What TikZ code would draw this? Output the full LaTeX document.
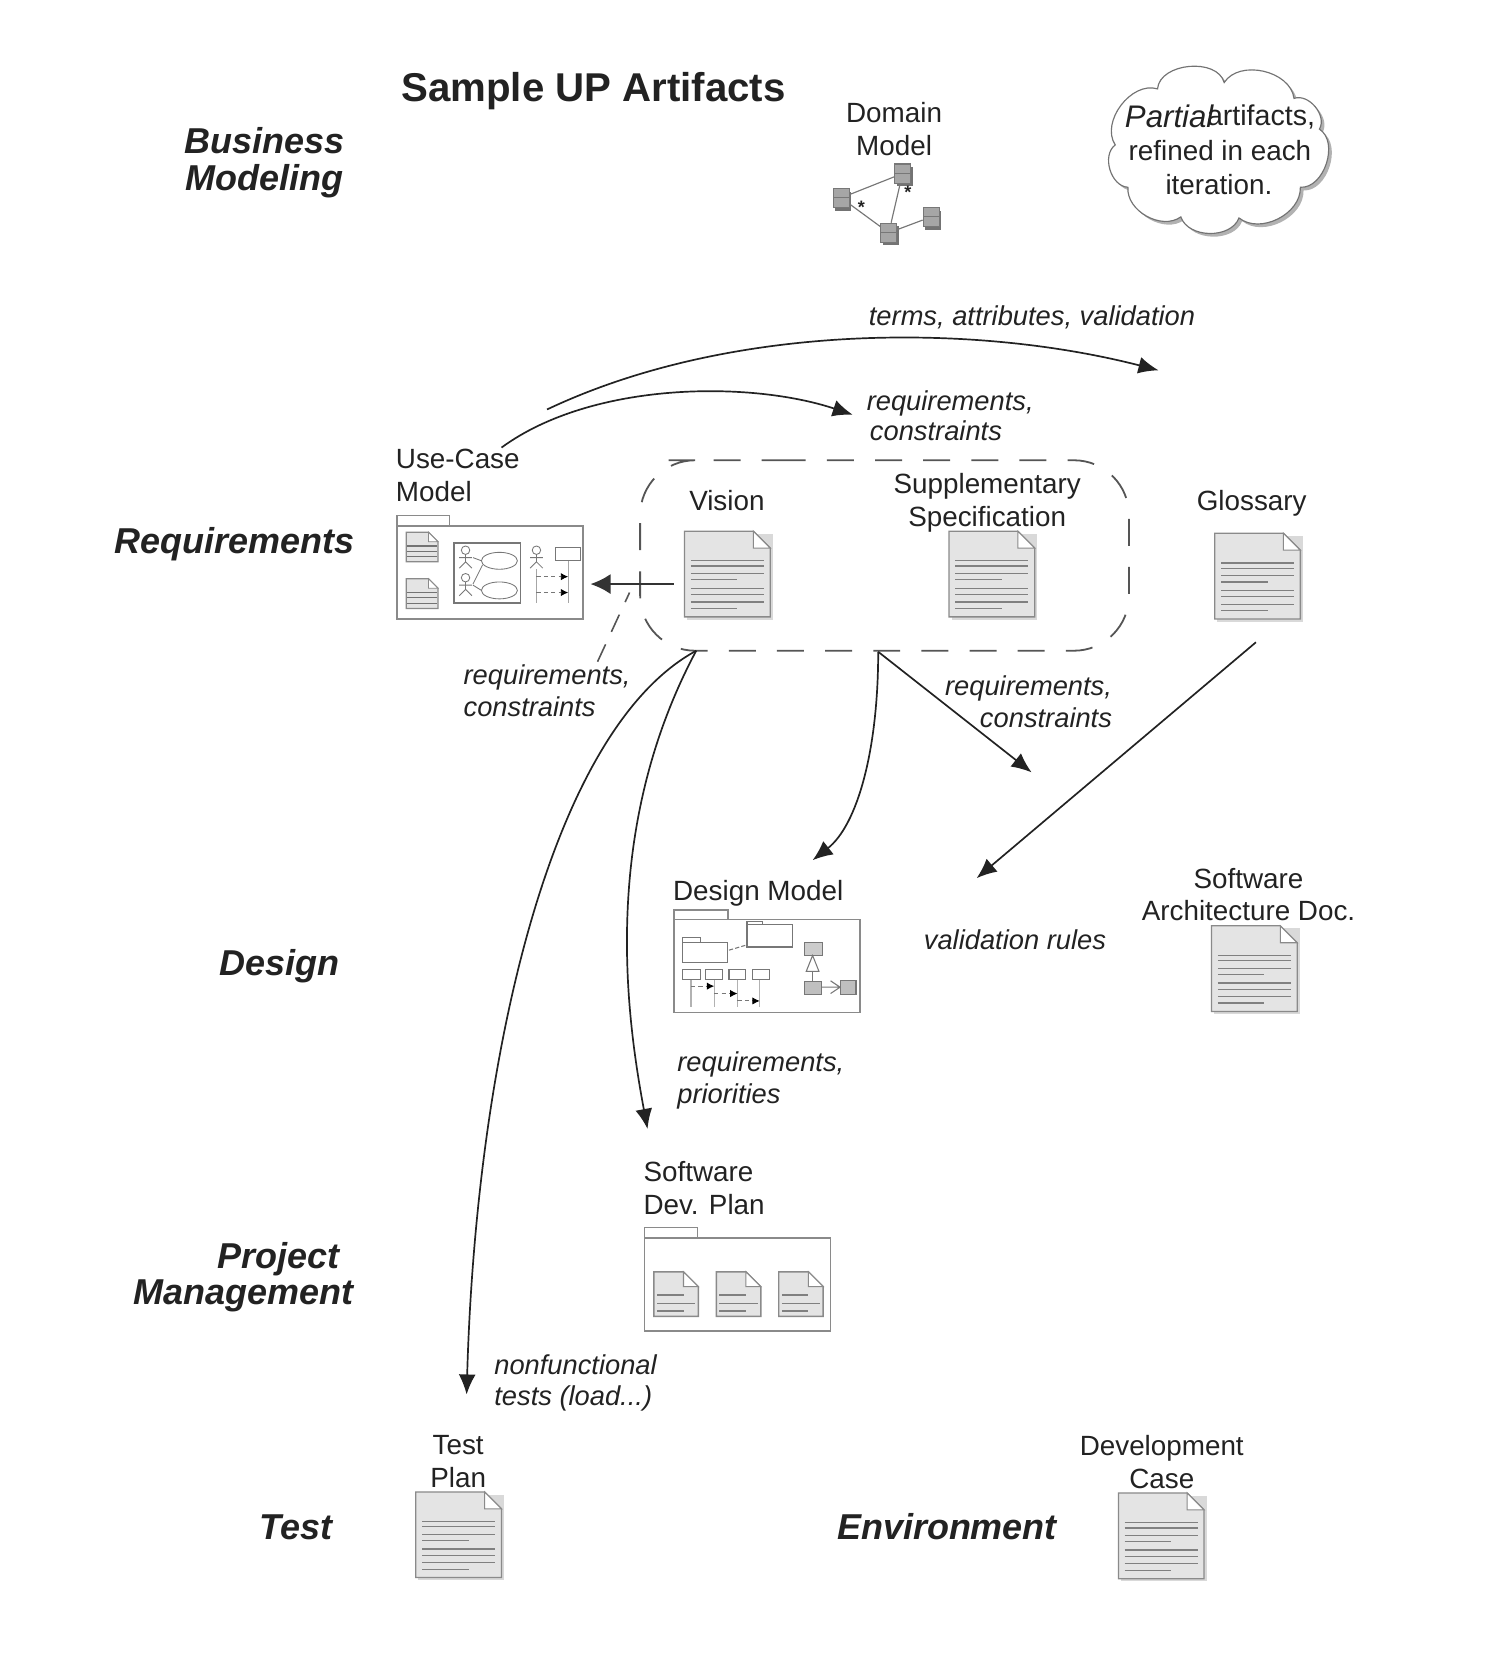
\documentclass[tikz,border=0pt]{standalone}
\usepackage{fontspec}
\setmainfont{Liberation Sans}
\usetikzlibrary{arrows.meta}
\definecolor{ink}{HTML}{222222}
\definecolor{docfill}{HTML}{E4E4E4}
\definecolor{docline}{HTML}{8A8A8A}
\definecolor{icon}{HTML}{777777}
\definecolor{dashc}{HTML}{555555}
\tikzset{
  x=1pt,y=-1pt,
  lab/.style={inner sep=0pt,text=ink,font=\fontsize{26.3}{31}\selectfont,align=left},
  labc/.style={lab,align=center},
  ilab/.style={inner sep=0pt,text=ink,font=\fontsize{25.8}{30}\selectfont\itshape,align=left},
  phase/.style={inner sep=0pt,text=ink,font=\fontsize{34}{35}\selectfont\bfseries\itshape,align=center},
  maintitle/.style={inner sep=0pt,text=ink,font=\fontsize{38}{40}\selectfont\bfseries},
  conn/.style={draw=ink,line width=1.6pt,-{Latex[length=19pt,width=16pt]}},
  tiny/.style={draw=icon,line width=1pt},
  tinyarrow/.style={draw=icon,line width=.9pt,dash pattern=on 4pt off 3pt,arrows={-{Latex[black,length=7pt,width=7pt]}}},
  folderline/.style={draw=docline,line width=1.4pt,fill=white},
  classbox/.style={draw=icon,line width=1pt,fill=black!35,minimum width=15pt,minimum height=18pt,inner sep=0pt,
    path picture={\draw[icon] (path picture bounding box.west) -- (path picture bounding box.east);}},
  classshadow/.style={fill=black!55,minimum width=15pt,minimum height=18pt,inner sep=0pt},
  assoc/.style={draw=icon,line width=1.1pt},
  starlab/.style={inner sep=0pt,text=ink,font=\fontsize{17}{17}\selectfont\bfseries},
  bigdoc/.pic={
    \path[fill=black!15] (2.5,2.5) -- (83.5,2.5) -- (83.5,83.5) -- (2.5,83.5) -- cycle;
    \path[draw=docline,line width=1.2pt,fill=docfill] (0,0) -- (65,0) -- (81,16) -- (81,81) -- (0,81) -- cycle;
    \path[draw=docline,line width=1pt,fill=white] (65,0) -- (65,16) -- (81,16) -- cycle;
    \foreach \yy/\xx in {28/75,33/75,40/75,46/50,54/75,60/75,67/75,73/50}
      \draw[draw=black!50,line width=1.2pt] (6,\yy) -- (\xx,\yy);
  },
  smalldoc/.pic={
    \path[draw=docline,line width=1.4pt,fill=docfill] (0,0) -- (28,0) -- (42,14) -- (42,42) -- (0,42) -- cycle;
    \path[draw=docline,line width=1pt,fill=white] (28,0) -- (28,14) -- (42,14) -- cycle;
    \draw[black!50,line width=1.2pt] (3,22) -- (28,22);
    \draw[black!50,line width=1.2pt] (3,30) -- (39,30);
    \draw[black!50,line width=1.2pt] (3,37) -- (28,37);
  },
  tinydoc/.pic={
    \path[draw=docline,line width=1.2pt,fill=docfill] (0,0) -- (21,0) -- (30,9) -- (30,28) -- (0,28) -- cycle;
    \path[draw=docline,line width=.8pt,fill=white] (21,0) -- (21,9) -- (30,9) -- cycle;
    \foreach \yy in {13,18,23}
      \draw[black!55,line width=1pt] (1,\yy) -- (29,\yy);
  },
  actor/.pic={
    \draw[tiny,line width=.8pt] (0,0) circle (4);
    \draw[tiny,line width=.8pt] (0,4) -- (0,11) (-6,7) -- (6,7) (0,11) -- (-6,17) (0,11) -- (6,17);
  },
}
\begin{document}
\begin{tikzpicture}
\useasboundingbox (0,0) rectangle (1410,1567);
% titles and phases
\node[maintitle] (title) at (561,86) {Sample UP Artifacts};
\node[phase] (pBM) at (250,154) {Business\\Modeling};
\node[phase] (pReq) at (222,514) {Requirements};
\node[phase] (pDes) at (264,913) {Design};
\node[phase] (pPM1) at (263,1190) {Project};
\node[phase] (pPM2) at (230,1225) {Management};
\node[phase] (pTest) at (280,1443) {Test};
\node[phase] (pEnv) at (895,1443) {Environment};

% domain model
\node[labc] (domlab) at (845,122) {Domain\\Model};
\node[classshadow] at (797,190) {};
\node[classshadow] at (855,167) {};
\node[classshadow] at (842,223) {};
\node[classshadow] at (882,208) {};
\node[classbox] (c1) at (795,187) {};
\node[classbox] (c2) at (853,164) {};
\node[classbox] (c3) at (840,220) {};
\node[classbox] (c4) at (880,205) {};
\draw[assoc] (c1) -- (c2);
\draw[assoc] (c1) -- (c3);
\draw[assoc] (c2) -- (c3);
\draw[assoc] (c3) -- (c4);
\node[starlab] (s1) at (814,196) {*};
\node[starlab] (s2) at (858,182) {*};

% cloud
\def\cloudshape{(1157,78) to[bend left=70] (1223,93) to[bend left=70] (1247,122) to[bend left=75] (1229,177) to[bend left=65] (1171,206) to[bend left=70] (1116,205) to[bend left=65] (1066,177) to[bend left=70] (1054,137) to[bend left=70] (1094,84) to[bend left=80] (1157,78) -- cycle}
\path[fill=black!30,xshift=3pt,yshift=-3pt] \cloudshape;
\path[draw=black!55,line width=1.1pt,fill=white] \cloudshape;
\node[inner sep=0pt,anchor=west,text=ink,font=\fontsize{29.5}{31}\selectfont\itshape] (cl1) at (1063,110) {Partial};
\node[inner sep=0pt,anchor=east,text=ink,font=\fontsize{27}{31}\selectfont] (cl2) at (1243,111) {artifacts,};
\node[labc] (cl3) at (1153,142) {refined in each};
\node[labc] (cl4) at (1152,174) {iteration.};

% use-case model
\node[lab,anchor=west] (uclab) at (374,449) {Use-Case\\Model};
\path[folderline] (375,497) -- (375,487) -- (425,487) -- (425,497);
\path[folderline] (375,497) rectangle (551,585);
\node[inner sep=0pt,minimum width=176pt,minimum height=88pt] (ucm) at (463,541) {};
\pic at (384,503) {tinydoc};
\pic at (384,547) {tinydoc};
\draw[draw=icon,line width=1.4pt] (429,513) rectangle (492,570);
\pic at (440,520) {actor};
\pic at (440,546) {actor};
\draw[tiny,line width=.8pt] (472,530) ellipse (17 and 8) (472,558) ellipse (17 and 8);
\draw[tiny,line width=.8pt] (447,527) -- (455,530) (447,552) -- (456,534) (447,553) -- (455,558);
\pic at (507,520) {actor};
\draw[tiny] (525,517) rectangle (549,530);
\draw[black!35,line width=1pt] (507,538) -- (507,570) (537,530) -- (537,570);
\draw[tinyarrow] (507,545) -- (537,545);
\draw[tinyarrow] (507,560) -- (537,560);

% dashed region and documents
\node[inner sep=0pt,minimum width=462pt,minimum height=180pt] (vscope) at (836,525) {};
\draw[draw=dashc,line width=1.7pt,dash pattern=on 25.5pt off 20pt,rounded corners=52pt]
  (684,435) -- (1067,435) -- (1067,615) -- (605,615) -- (605,435) -- cycle;
\node[labc] (vislab) at (687,473) {Vision};
\pic at (647,502) {bigdoc};
\node[inner sep=0pt,minimum size=81pt] (vision) at (687.5,542.5) {};
\node[labc] (suplab) at (933,475) {Supplementary\\Specification};
\pic at (897,502) {bigdoc};
\node[labc] (glolab) at (1183,476) {Glossary};
\pic at (1148,504) {bigdoc};
\node[inner sep=0pt,minimum size=81pt] (glossary) at (1188.5,544.5) {};

% design model
\node[lab,anchor=west] (dmlab) at (636,844) {Design Model};
\path[folderline] (637,869) -- (637,860) -- (688,860) -- (688,869);
\path[folderline] (637,869) rectangle (813,957);
\node[inner sep=0pt,minimum width=176pt,minimum height=88pt] (dm) at (725,913) {};
\draw[tiny] (645,891) -- (645,886) -- (662,886) -- (662,891);
\draw[tiny] (645,891) rectangle (688,910);
\draw[tiny] (706,874) -- (706,871) -- (721,871) -- (721,874);
\draw[tiny] (706,874) rectangle (749,895);
\draw[tiny,dash pattern=on 4pt off 2pt] (689,898) -- (706,893);
\foreach \xa/\xb in {645/662,667/683,689/705,711/727}
  \draw[tiny] (\xa,916) rectangle (\xb,926);
\foreach \xx in {653,675,697,718}
  \draw[black!30,line width=1.2pt] (\xx,926) -- (\xx,952);
\draw[tinyarrow] (653,932) -- (675,932);
\draw[tinyarrow] (675,939) -- (697,939);
\draw[tinyarrow] (697,946) -- (718,946);
\draw[tiny,fill=black!20] (760,891) rectangle (777,903);
\draw[tiny,fill=white] (768,903) -- (774,918) -- (762,918) -- cycle;
\draw[tiny] (768,918) -- (768,928);
\draw[tiny,fill=black!25] (760,928) rectangle (776,940);
\draw[tiny,fill=black!25] (794,927) rectangle (809,940);
\draw[tiny] (776,933) -- (794,933) (785,927) -- (794,933) -- (785,939);

% software architecture doc
\node[labc] (sadlab) at (1180,845.5) {Software\\Architecture Doc.};
\pic at (1145,875) {bigdoc};

% software dev plan
\node[lab,anchor=west] (sdplab) at (608,1123) {Software\\Dev. Plan};
\path[folderline] (609,1170) -- (609,1160) -- (659,1160) -- (659,1170);
\path[folderline] (609,1170) rectangle (785,1258);
\node[inner sep=0pt,minimum width=176pt,minimum height=88pt] (sdp) at (697,1214) {};
\pic at (618,1202) {smalldoc};
\pic at (677,1202) {smalldoc};
\pic at (736,1202) {smalldoc};

% test plan, development case
\node[labc] (tplab) at (433,1381) {Test\\Plan};
\pic at (393,1410) {bigdoc};
\node[labc] (dclab) at (1098,1382) {Development\\Case};
\pic at (1057,1411) {bigdoc};

% connector labels
\node[ilab,anchor=west] (l1) at (821,300) {terms, attributes, validation};
\node[ilab,anchor=west] (l2a) at (819,381) {requirements,};
\node[ilab,anchor=west] (l2b) at (822,407) {constraints};
\node[ilab,anchor=west] (l3) at (438,653) {requirements,\\constraints};
\node[ilab,anchor=west] (l4a) at (893,651) {requirements,};
\node[ilab,anchor=west] (l4b) at (926,678) {constraints};
\node[ilab,anchor=west] (l5) at (873,888) {validation rules};
\node[ilab,anchor=west] (l6) at (640,1021) {requirements,\\priorities};
\node[ilab,anchor=west] (l7) at (467,1307) {nonfunctional\\tests (load...)};

% connector ends
\coordinate (a1s) at (517,387);
\coordinate (a1e) at (1095,350);
\coordinate (a2s) at (474,423);
\coordinate (a2e) at (806,392);
\coordinate (a3s) at (637,552);
\coordinate (a3e) at (558,552);
\coordinate (a4s) at (595,560);
\coordinate (a4e) at (564,627);
\coordinate (a5s) at (658,615);
\coordinate (a5e) at (441,1318);
\coordinate (a6e) at (612,1067);
\coordinate (a7s) at (830,616);
\coordinate (a7e) at (768,813);
\coordinate (a8e) at (975,730);
\coordinate (a9s) at (1187,607);
\coordinate (a9e) at (923,830);

\draw[conn] (a1s) .. controls (690,305) and (920,305) .. (a1e);
\draw[conn] (a2s) .. controls (560,360) and (710,360) .. (a2e);
\draw[draw=black!80,line width=2.2pt,-{Latex[length=19pt,width=19pt]}] (a3s) -- (a3e);
\draw[draw=dashc,line width=1.5pt,dash pattern=on 18pt off 13pt,dash phase=8pt] (a4s) -- (a4e);
\draw[conn] (a5s) .. controls (520,690) and (450,1000) .. (a5e);
\draw[conn] (a5s) .. controls (570,780) and (590,950) .. (a6e);
\draw[conn] (a7s) .. controls (830,710) and (810,780) .. (a7e);
\draw[conn] (a7s) -- (a8e);
\draw[conn] (a9s) -- (a9e);
\end{tikzpicture}
\end{document}
